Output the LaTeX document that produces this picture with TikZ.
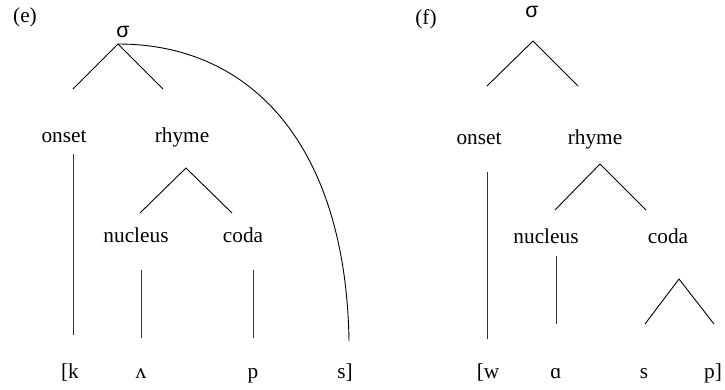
\documentclass[tikz,border=0pt]{standalone}
\usepackage{fontspec}
\setmainfont{Liberation Serif}
\newfontfamily\sigfont{Liberation Sans}
\begin{document}
\begin{tikzpicture}[x=1pt,y=-1pt,
  lbl/.style={anchor=base,inner sep=0pt,font=\fontsize{21.3}{25}\selectfont},
  sig/.style={anchor=base,inner sep=0pt,font=\sigfont\fontsize{21.3}{25}\selectfont},
  br/.style={line width=0.9pt,black},
  vl/.style={line width=0.9pt,black!80}]
\useasboundingbox (0,0) rectangle (725,389);
% ---------- panel (e) ----------
\node[lbl] (elab) at (25,22) {(e)};
\node[sig] (esig) at (123,37) {σ};
\node[lbl] (eons) at (64,142) {onset};
\node[lbl] (erhy) at (182,142) {rhyme};
\node[lbl] (enuc) at (136,242) {nucleus};
\node[lbl] (ecod) at (243,242) {coda};
\node[lbl] (ek) at (70,378) {[k};
\node[lbl] (ev) at (141,378) {ʌ};
\node[lbl] (ep) at (253,378) {p};
\node[lbl] (es) at (345,378) {s]};
\coordinate (eA) at (118,44);
\coordinate (eL) at (73,89);
\coordinate (eR) at (163,89);
\draw[br] (eL) -- (eA) -- (eR);
\coordinate (eB) at (349,341);
\draw[br] (eA) .. controls (255,44) and (346,150) .. (eB);
\coordinate (eo1) at (73,154);
\coordinate (eo2) at (73,335);
\draw[vl] (eo1) -- (eo2);
\coordinate (erA) at (186,168);
\coordinate (erL) at (140,213);
\coordinate (erR) at (232,213);
\draw[br] (erL) -- (erA) -- (erR);
\coordinate (en1) at (141,270);
\coordinate (en2) at (141,338);
\draw[vl] (en1) -- (en2);
\coordinate (ec1) at (253,270);
\coordinate (ec2) at (253,338);
\draw[vl] (ec1) -- (ec2);
% ---------- panel (f) ----------
\node[lbl] (flab) at (426,24) {(f)};
\node[sig] (fsig) at (532,17) {σ};
\node[lbl] (fons) at (479,144) {onset};
\node[lbl] (frhy) at (595,144) {rhyme};
\node[lbl] (fnuc) at (546,243) {nucleus};
\node[lbl] (fcod) at (668,243) {coda};
\node[lbl] (fw) at (488,378) {[w};
\node[lbl] (fa) at (556,378) {ɑ};
\node[lbl] (fs) at (644,378) {s};
\node[lbl] (fp) at (713,378) {p]};
\coordinate (fA) at (533,41);
\coordinate (fL) at (487,86);
\coordinate (fR) at (578,86);
\draw[br] (fL) -- (fA) -- (fR);
\coordinate (fo1) at (487,172);
\coordinate (fo2) at (487,339);
\draw[vl] (fo1) -- (fo2);
\coordinate (frA) at (600,164);
\coordinate (frL) at (555,210);
\coordinate (frR) at (646,210);
\draw[br] (frL) -- (frA) -- (frR);
\coordinate (fn1) at (556,256);
\coordinate (fn2) at (556,324);
\draw[vl] (fn1) -- (fn2);
\coordinate (fcA) at (679,279);
\coordinate (fcL) at (645,324);
\coordinate (fcR) at (714,324);
\draw[br] (fcL) -- (fcA) -- (fcR);
\end{tikzpicture}
\end{document}
